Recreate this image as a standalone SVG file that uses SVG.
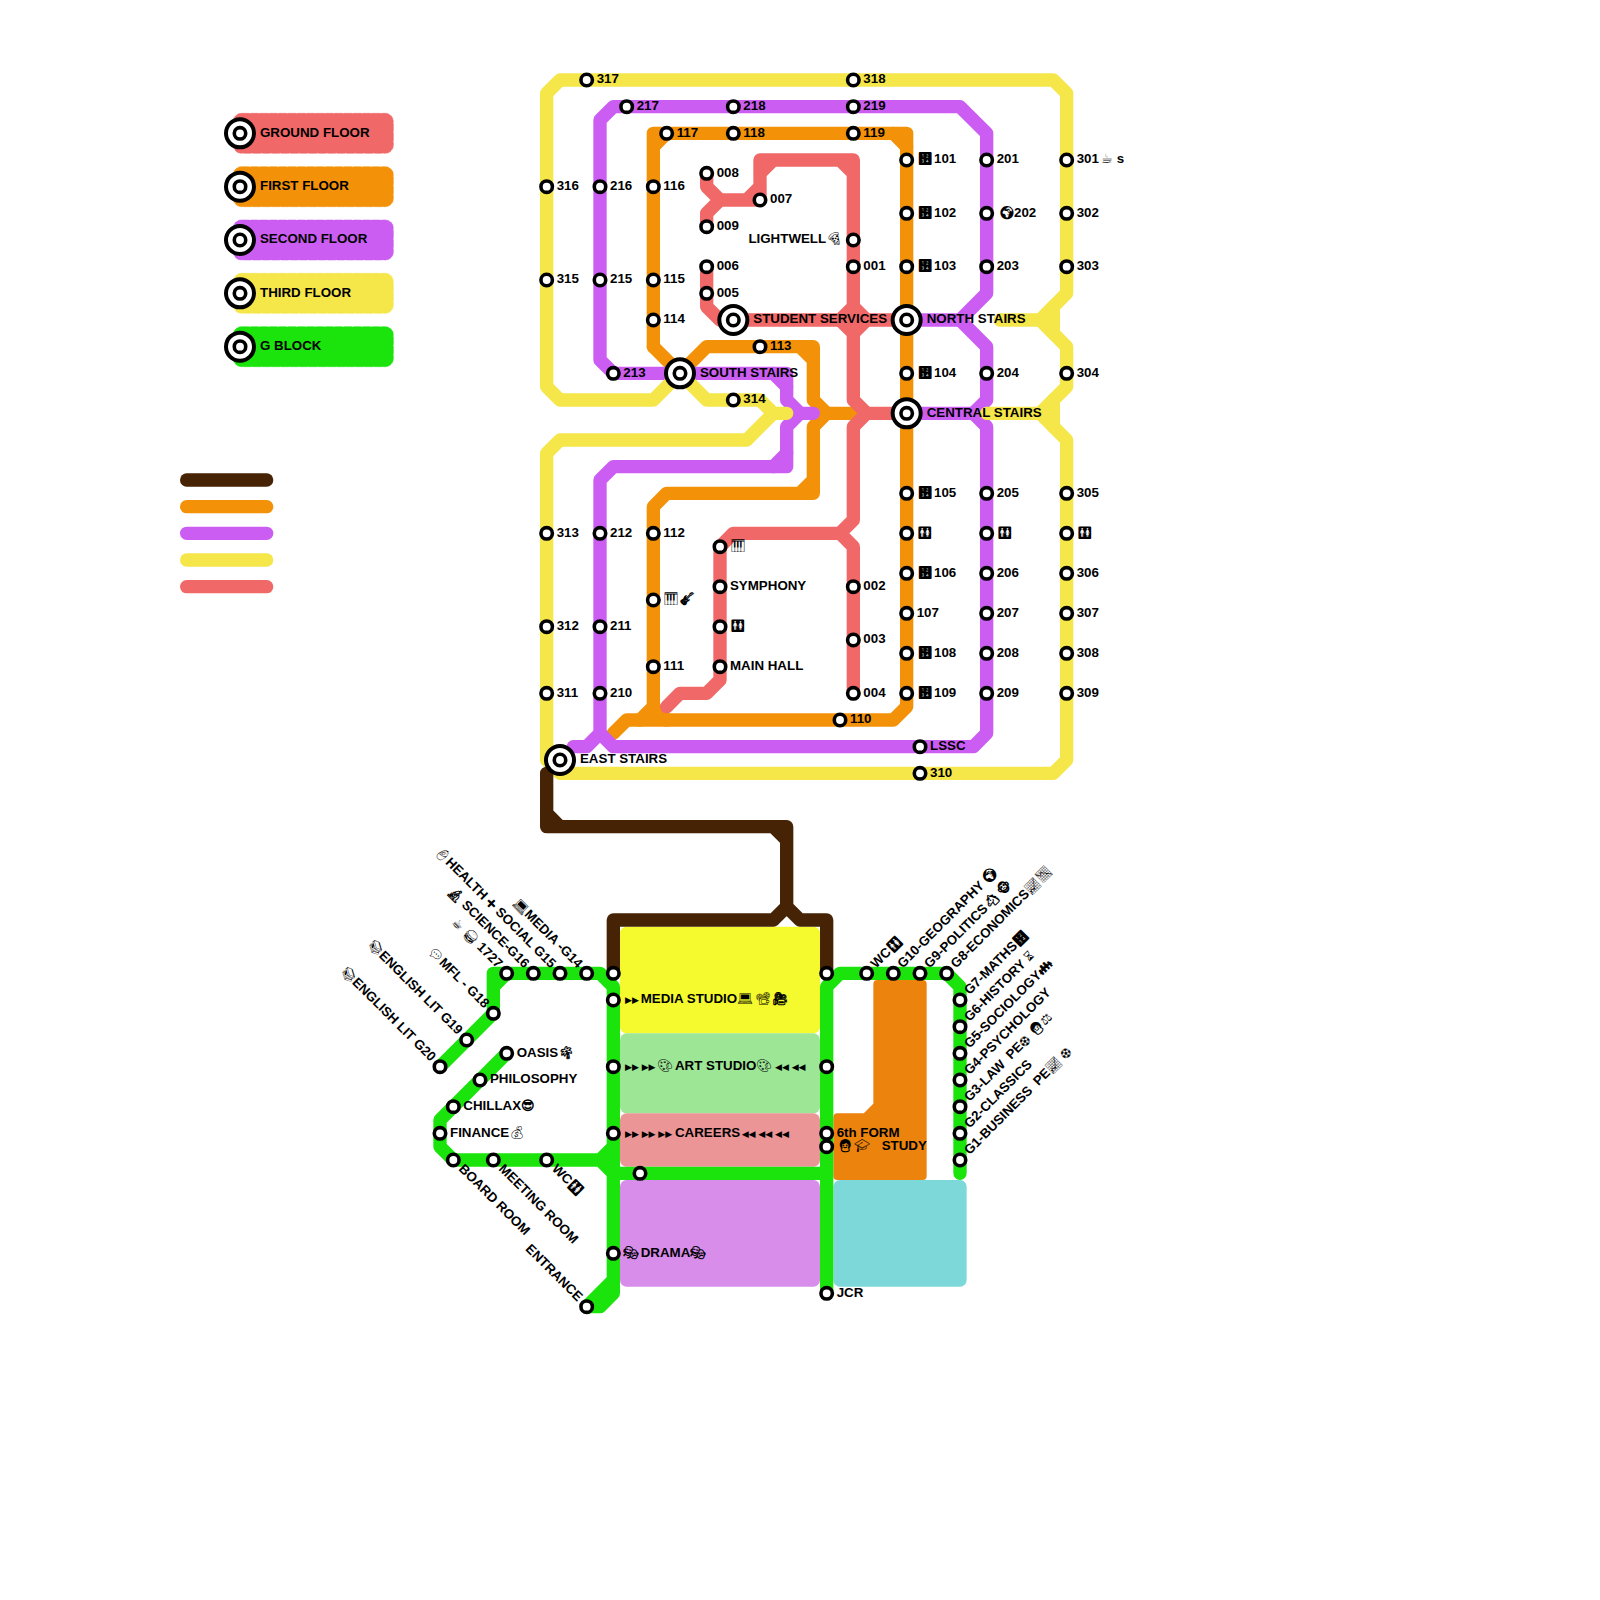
<svg xmlns="http://www.w3.org/2000/svg" width="1600" height="1600" viewBox="0 0 1600 1600">
<style>
text{font-family:"Liberation Sans",sans-serif;font-weight:700;font-size:1px;fill:#000;white-space:pre}
.e{text-anchor:end}
.m{font-size:.95px;font-variant-emoji:text;font-weight:400}
.mb{font-size:.95px;font-variant-emoji:text}
.a{font-family:"DejaVu Sans",sans-serif;font-size:.68px}
.l{fill:none;stroke-width:1;stroke-linecap:round;stroke-linejoin:round}
.br{stroke:#452304}.or{stroke:#f39208}.pu{stroke:#cb5df2}.ye{stroke:#f5e64a}.re{stroke:#f06868}.gr{stroke:#1ae40c}
.k{stroke-width:.04;stroke-dasharray:.6 .1}
</style>
<defs>
<circle id="st" r=".43" fill="#fff" stroke="#000" stroke-width=".27"/>
<g id="hub"><circle r="1.05" fill="#fff" stroke="#000" stroke-width=".3"/><circle r=".43" fill="#fff" stroke="#000" stroke-width=".27"/></g>
</defs>
<rect width="1600" height="1600" fill="#fff"/>
<g transform="scale(13.33333)">
<g id="legend">
<g id="key-ground"><rect class="k" x="17.5" y="8.5" width="12" height="3" rx=".6" fill="#f06868" stroke="#f06868"/><use href="#hub" x="18" y="10"/><text x="19.5" y="10.25">GROUND FLOOR</text></g>
<g id="key-first"><rect class="k" x="17.5" y="12.5" width="12" height="3" rx=".6" fill="#f39208" stroke="#f39208"/><use href="#hub" x="18" y="14"/><text x="19.5" y="14.25">FIRST FLOOR</text></g>
<g id="key-second"><rect class="k" x="17.5" y="16.5" width="12" height="3" rx=".6" fill="#cb5df2" stroke="#cb5df2"/><use href="#hub" x="18" y="18"/><text x="19.5" y="18.25">SECOND FLOOR</text></g>
<g id="key-third"><rect class="k" x="17.5" y="20.5" width="12" height="3" rx=".6" fill="#f5e64a" stroke="#f5e64a"/><use href="#hub" x="18" y="22"/><text x="19.5" y="22.25">THIRD FLOOR</text></g>
<g id="key-g"><rect class="k" x="17.5" y="24.5" width="12" height="3" rx=".6" fill="#1ae40c" stroke="#1ae40c"/><use href="#hub" x="18" y="26"/><text x="19.5" y="26.25">G BLOCK</text></g>
<path class="l br" d="M14 36H20"/><path class="l or" d="M14 38H20"/><path class="l pu" d="M14 40H20"/><path class="l ye" d="M14 42H20"/><path class="l re" d="M14 44H20"/>
</g>
<g id="zones">
<rect x="46.5" y="69.5" width="15" height="8" rx=".5" fill="#f5fa2e"/>
<rect x="46.5" y="77.5" width="15" height="6" rx=".5" fill="#9de696"/>
<rect x="46.5" y="83.5" width="15" height="4" rx=".5" fill="#ec9596"/>
<rect x="46.5" y="88.5" width="15" height="8" rx=".5" fill="#d88deb"/>
<rect x="62.5" y="88.5" width="10" height="8" rx=".5" fill="#7dd9d9"/>
<path d="M62.8 83.8H64.9L65.8 82.9V73.8H69.2V88.2H62.8Z" fill="#eb830d" stroke="#eb830d" stroke-width=".6" stroke-linejoin="round"/>
</g>
<g id="connectors">
<g class="l or">
<path d="M49 11L50 10M49 26V10H68V53L67 54H47L46 55"/>
<path d="M67 10L68 11"/>
<path d="M49 26L51 28L53 26H61V30L62 31H64M60 26L61 27"/>
<path d="M62 31L61 32V37H50L49 38V53L48 54M60 37L61 36M49 53L50 54"/>
</g>
<g class="l re">
<path d="M53 13V14L54 15L53 16V17M54 15H57V12H64V23L63 24L64 25V30L65 31L64 32V39L63 40L64 41V52M56 15L57 14M57 13L58 12M63 12L64 13"/>
<path d="M53 20V23L54 24H68M64 23L65 24L64 25M65 31H68"/>
<path d="M63 40H55L54 41V51L53 52H51L50 53"/>
</g>
<g class="l pu">
<path d="M68 24H72L74 22V10L72 8H46L45 9V27L46 28H59V30L60 31H61L60 31L59 32V35H46L45 36V55L44 56H43"/>
<path d="M58 28L59 29M58 35L59 34M45 55L46 56H73L74 55V32L73 31H68M72 24L74 26V30L73 31"/>
</g>
<g class="l ye">
<path d="M51 28L49 30H42L41 29V7L42 6H79L80 7V22L78 24L80 26V29L78 31L80 33V57L79 58H42L41 57V34L42 33H56L58 31H59"/>
<path d="M51 28L53 30H57L58 31M79 23V25M78 24H75M79 30V32M78 31H74"/>
</g>
<g class="l br">
<path d="M41 58V62H59V68L58 69H46V73M59 68L60 69H62V73M41 61L42 62M58 62L59 63"/>
</g>
<g class="l gr">
<path d="M33 80L37 76V73H45L46 74V96L44 98H45L46 97V96M37 74L38 73"/>
<path d="M38 79L33 84V86L34 87H45L46 86M45 87L46 88H62M62 97V74L63 73H71L72 74V88"/>
</g>
</g>
<g id="nodes">
<g id="n317" transform="translate(44 6)"><use href="#st"/><text x=".75" y=".25">317</text></g>
<g id="n318" transform="translate(64 6)"><use href="#st"/><text x=".75" y=".25">318</text></g>
<g id="n217" transform="translate(47 8)"><use href="#st"/><text x=".75" y=".25">217</text></g>
<g id="n218" transform="translate(55 8)"><use href="#st"/><text x=".75" y=".25">218</text></g>
<g id="n219" transform="translate(64 8)"><use href="#st"/><text x=".75" y=".25">219</text></g>
<g id="n117" transform="translate(50 10)"><use href="#st"/><text x=".75" y=".25">117</text></g>
<g id="n118" transform="translate(55 10)"><use href="#st"/><text x=".75" y=".25">118</text></g>
<g id="n119" transform="translate(64 10)"><use href="#st"/><text x=".75" y=".25">119</text></g>
<g id="n008" transform="translate(53 13)"><use href="#st"/><text x=".75" y=".25">008</text></g>
<g id="n007" transform="translate(57 15)"><use href="#st"/><text x=".75" y=".25">007</text></g>
<g id="n009" transform="translate(53 17)"><use href="#st"/><text x=".75" y=".25">009</text></g>
<g id="n-lightwell" transform="translate(64 18)"><use href="#st"/><text x="-7.87" y=".25">LIGHTWELL<tspan class="m" dx=".02">🍕</tspan></text></g>
<g id="n006" transform="translate(53 20)"><use href="#st"/><text x=".75" y=".25">006</text></g>
<g id="n005" transform="translate(53 22)"><use href="#st"/><text x=".75" y=".25">005</text></g>
<g id="n001" transform="translate(64 20)"><use href="#st"/><text x=".75" y=".25">001</text></g>
<g id="n316" transform="translate(41 14)"><use href="#st"/><text x=".75" y=".25">316</text></g>
<g id="n216" transform="translate(45 14)"><use href="#st"/><text x=".75" y=".25">216</text></g>
<g id="n116" transform="translate(49 14)"><use href="#st"/><text x=".75" y=".25">116</text></g>
<g id="n315" transform="translate(41 21)"><use href="#st"/><text x=".75" y=".25">315</text></g>
<g id="n215" transform="translate(45 21)"><use href="#st"/><text x=".75" y=".25">215</text></g>
<g id="n115" transform="translate(49 21)"><use href="#st"/><text x=".75" y=".25">115</text></g>
<g id="n114" transform="translate(49 24)"><use href="#st"/><text x=".75" y=".25">114</text></g>
<g id="n-student" transform="translate(55 24)"><use href="#hub"/><text x="1.5" y=".25">STUDENT SERVICES</text></g>
<g id="n-north" transform="translate(68 24)"><use href="#hub"/><text x="1.5" y=".25">NORTH STAIRS</text></g>
<g id="n113" transform="translate(57 26)"><use href="#st"/><text x=".75" y=".25">113</text></g>
<g id="n-south" transform="translate(51 28)"><use href="#hub"/><text x="1.5" y=".25">SOUTH STAIRS</text></g>
<g id="n213" transform="translate(46 28)"><use href="#st"/><text x=".75" y=".25">213</text></g>
<g id="n314" transform="translate(55 30)"><use href="#st"/><text x=".75" y=".25">314</text></g>
<g id="n-central" transform="translate(68 31)"><use href="#hub"/><text x="1.5" y=".25">CENTRAL STAIRS</text></g>
<g id="n101" transform="translate(68 12)"><use href="#st"/><text y=".25"><tspan class="m" x=".8">🔢</tspan><tspan x="2.05">101</tspan></text></g>
<g id="n102" transform="translate(68 16)"><use href="#st"/><text y=".25"><tspan class="m" x=".8">🔢</tspan><tspan x="2.05">102</tspan></text></g>
<g id="n103" transform="translate(68 20)"><use href="#st"/><text y=".25"><tspan class="m" x=".8">🔢</tspan><tspan x="2.05">103</tspan></text></g>
<g id="n104" transform="translate(68 28)"><use href="#st"/><text y=".25"><tspan class="m" x=".8">🔢</tspan><tspan x="2.05">104</tspan></text></g>
<g id="n105" transform="translate(68 37)"><use href="#st"/><text y=".25"><tspan class="m" x=".8">🔢</tspan><tspan x="2.05">105</tspan></text></g>
<g id="n1wc" transform="translate(68 40)"><use href="#st"/><text x=".75" y=".25" class="m">🚻</text></g>
<g id="n106" transform="translate(68 43)"><use href="#st"/><text y=".25"><tspan class="m" x=".8">🔢</tspan><tspan x="2.05">106</tspan></text></g>
<g id="n107" transform="translate(68 46)"><use href="#st"/><text x=".75" y=".25">107</text></g>
<g id="n108" transform="translate(68 49)"><use href="#st"/><text y=".25"><tspan class="m" x=".8">🔢</tspan><tspan x="2.05">108</tspan></text></g>
<g id="n109" transform="translate(68 52)"><use href="#st"/><text y=".25"><tspan class="m" x=".8">🔢</tspan><tspan x="2.05">109</tspan></text></g>
<g id="n201" transform="translate(74 12)"><use href="#st"/><text x=".75" y=".25">201</text></g>
<g id="n202" transform="translate(74 16)"><use href="#st"/><text y=".25"><tspan class="mb" x=".9">🌍</tspan><tspan x="2.05">202</tspan></text></g>
<g id="n203" transform="translate(74 20)"><use href="#st"/><text x=".75" y=".25">203</text></g>
<g id="n204" transform="translate(74 28)"><use href="#st"/><text x=".75" y=".25">204</text></g>
<g id="n205" transform="translate(74 37)"><use href="#st"/><text x=".75" y=".25">205</text></g>
<g id="n2wc" transform="translate(74 40)"><use href="#st"/><text x=".75" y=".25" class="m">🚻</text></g>
<g id="n206" transform="translate(74 43)"><use href="#st"/><text x=".75" y=".25">206</text></g>
<g id="n207" transform="translate(74 46)"><use href="#st"/><text x=".75" y=".25">207</text></g>
<g id="n208" transform="translate(74 49)"><use href="#st"/><text x=".75" y=".25">208</text></g>
<g id="n209" transform="translate(74 52)"><use href="#st"/><text x=".75" y=".25">209</text></g>
<g id="n301" transform="translate(80 12)"><use href="#st"/><text y=".25"><tspan x=".75">301</tspan><tspan class="m" x="2.55">☕</tspan><tspan x="3.75">s</tspan></text></g>
<g id="n302" transform="translate(80 16)"><use href="#st"/><text x=".75" y=".25">302</text></g>
<g id="n303" transform="translate(80 20)"><use href="#st"/><text x=".75" y=".25">303</text></g>
<g id="n304" transform="translate(80 28)"><use href="#st"/><text x=".75" y=".25">304</text></g>
<g id="n305" transform="translate(80 37)"><use href="#st"/><text x=".75" y=".25">305</text></g>
<g id="n3wc" transform="translate(80 40)"><use href="#st"/><text x=".75" y=".25" class="m">🚻</text></g>
<g id="n306" transform="translate(80 43)"><use href="#st"/><text x=".75" y=".25">306</text></g>
<g id="n307" transform="translate(80 46)"><use href="#st"/><text x=".75" y=".25">307</text></g>
<g id="n308" transform="translate(80 49)"><use href="#st"/><text x=".75" y=".25">308</text></g>
<g id="n309" transform="translate(80 52)"><use href="#st"/><text x=".75" y=".25">309</text></g>
<g id="n313" transform="translate(41 40)"><use href="#st"/><text x=".75" y=".25">313</text></g>
<g id="n212" transform="translate(45 40)"><use href="#st"/><text x=".75" y=".25">212</text></g>
<g id="n112" transform="translate(49 40)"><use href="#st"/><text x=".75" y=".25">112</text></g>
<g id="n-music1" transform="translate(49 45)"><use href="#st"/><text x=".75" y=".25"><tspan class="m">🎹</tspan><tspan class="mb">🎸</tspan></text></g>
<g id="n312" transform="translate(41 47)"><use href="#st"/><text x=".75" y=".25">312</text></g>
<g id="n211" transform="translate(45 47)"><use href="#st"/><text x=".75" y=".25">211</text></g>
<g id="n111" transform="translate(49 50)"><use href="#st"/><text x=".75" y=".25">111</text></g>
<g id="n311" transform="translate(41 52)"><use href="#st"/><text x=".75" y=".25">311</text></g>
<g id="n210" transform="translate(45 52)"><use href="#st"/><text x=".75" y=".25">210</text></g>
<g id="n-music0" transform="translate(54 41)"><use href="#st"/><text x=".75" y=".25" class="m">🎹</text></g>
<g id="n-symphony" transform="translate(54 44)"><use href="#st"/><text x=".75" y=".25">SYMPHONY</text></g>
<g id="n0wc" transform="translate(54 47)"><use href="#st"/><text x=".75" y=".25" class="m">🚻</text></g>
<g id="n-mainhall" transform="translate(54 50)"><use href="#st"/><text x=".75" y=".25">MAIN HALL</text></g>
<g id="n002" transform="translate(64 44)"><use href="#st"/><text x=".75" y=".25">002</text></g>
<g id="n003" transform="translate(64 48)"><use href="#st"/><text x=".75" y=".25">003</text></g>
<g id="n004" transform="translate(64 52)"><use href="#st"/><text x=".75" y=".25">004</text></g>
<g id="n110" transform="translate(63 54)"><use href="#st"/><text x=".75" y=".25">110</text></g>
<g id="n-east" transform="translate(42 57)"><use href="#hub"/><text x="1.5" y=".25">EAST STAIRS</text></g>
<g id="n-lssc" transform="translate(69 56)"><use href="#st"/><text x=".75" y=".25">LSSC</text></g>
<g id="n310" transform="translate(69 58)"><use href="#st"/><text x=".75" y=".25">310</text></g>
<g id="g14" transform="translate(44 73)"><use href="#st"/><text class="e" transform="rotate(45)" x="-.75" y=".25"><tspan class="m">💻</tspan>MEDIA -G14</text></g>
<g id="g15" transform="translate(42 73)"><use href="#st"/><text class="e" transform="rotate(45)" x="-.75" y=".25"><tspan class="m">👶</tspan>HEALTH <tspan class="mb">➕</tspan> SOCIAL G15</text></g>
<g id="g16" transform="translate(40 73)"><use href="#st"/><text class="e" transform="rotate(45)" x="-.75" y=".25"><tspan class="mb">🔬</tspan> SCIENCE-G16</text></g>
<g id="g1727" transform="translate(38 73)"><use href="#st"/><text class="e" transform="rotate(45)" x="-.75" y=".25"><tspan class="m">☕ 🍔</tspan> 1727</text></g>
<g id="g18" transform="translate(37 76)"><use href="#st"/><text class="e" transform="rotate(45)" x="-.75" y=".25"><tspan class="m">💬</tspan>MFL - G18</text></g>
<g id="g19" transform="translate(35 78)"><use href="#st"/><text class="e" transform="rotate(45)" x="-.75" y=".25"><tspan class="m">📚</tspan>ENGLISH LIT G19</text></g>
<g id="g20" transform="translate(33 80)"><use href="#st"/><text class="e" transform="rotate(45)" x="-.75" y=".25"><tspan class="m">📚</tspan>ENGLISH LIT G20</text></g>
<g id="gl-top" transform="translate(46 73)"><use href="#st"/></g>
<g id="gl-media" transform="translate(46 75)"><use href="#st"/><text y=".25"><tspan class="a" x=".875">▶▶</tspan><tspan x="2.05">MEDIA STUDIO</tspan><tspan class="m" x="9.3">💻</tspan><tspan class="m" x="10.65">📽</tspan><tspan class="mb" x="11.9">🎥</tspan></text></g>
<g id="gl-art" transform="translate(46 80)"><use href="#st"/><text y=".25"><tspan class="a" x=".875">▶▶</tspan><tspan class="a" x="2.125">▶▶</tspan><tspan class="m" x="3.3">🎨</tspan><tspan x="4.625">ART STUDIO</tspan><tspan class="m" x="10.7">🎨</tspan><tspan class="a" x="12.125">◀◀</tspan><tspan class="a" x="13.375">◀◀</tspan></text></g>
<g id="gl-careers" transform="translate(46 85)"><use href="#st"/><text y=".25"><tspan class="a" x=".875">▶▶</tspan><tspan class="a" x="2.125">▶▶</tspan><tspan class="a" x="3.375">▶▶</tspan><tspan x="4.625">CAREERS</tspan><tspan class="a" x="9.625">◀◀</tspan><tspan class="a" x="10.875">◀◀</tspan><tspan class="a" x="12.125">◀◀</tspan></text></g>
<g id="gl-drama" transform="translate(46 94)"><use href="#st"/><text y=".25"><tspan class="mb" x=".75">🎭</tspan><tspan x="2.05">DRAMA</tspan><tspan class="mb">🎭</tspan></text></g>
<g id="gl-entrance" transform="translate(44 98)"><use href="#st"/><text class="e" transform="rotate(45)" x="-.75" y=".25">ENTRANCE</text></g>
<g id="gl-mid" transform="translate(48 88)"><use href="#st"/></g>
<g id="gl-oasis" transform="translate(38 79)"><use href="#st"/><text x=".75" y=".25">OASIS<tspan class="mb">🌴</tspan></text></g>
<g id="gl-phil" transform="translate(36 81)"><use href="#st"/><text x=".75" y=".25">PHILOSOPHY</text></g>
<g id="gl-chillax" transform="translate(34 83)"><use href="#st"/><text x=".75" y=".25">CHILLAX<tspan class="mb">😎</tspan></text></g>
<g id="gl-finance" transform="translate(33 85)"><use href="#st"/><text x=".75" y=".25">FINANCE<tspan class="m">💰</tspan></text></g>
<g id="gl-board" transform="translate(34 87)"><use href="#st"/><text transform="rotate(45)" x=".75" y=".25">BOARD ROOM</text></g>
<g id="gl-meeting" transform="translate(37 87)"><use href="#st"/><text transform="rotate(45)" x=".75" y=".25">MEETING ROOM</text></g>
<g id="gl-wc" transform="translate(41 87)"><use href="#st"/><text transform="rotate(45)" x=".75" y=".25">WC<tspan class="m">🚻</tspan></text></g>
<g id="gr-top" transform="translate(62 73)"><use href="#st"/></g>
<g id="gr-80" transform="translate(62 80)"><use href="#st"/></g>
<g id="gr-form" transform="translate(62 85)"><use href="#st"/><text x=".75" y=".25">6th FORM</text></g>
<g id="gr-study" transform="translate(62 86)"><use href="#st"/><text y=".25"><tspan class="mb" x=".8">👩</tspan><tspan class="m" x="2.05">🎓</tspan><tspan x="4.125">STUDY</tspan></text></g>
<g id="gr-jcr" transform="translate(62 97)"><use href="#st"/><text x=".75" y=".25">JCR</text></g>
<g id="gr-wc" transform="translate(65 73)"><use href="#st"/><text transform="rotate(-45)" x=".75" y=".25">WC<tspan class="m">🚻</tspan></text></g>
<g id="g10" transform="translate(67 73)"><use href="#st"/><text transform="rotate(-45)" x=".75" y=".25">G10-GEOGRAPHY <tspan class="mb">🌍</tspan></text></g>
<g id="g9" transform="translate(69 73)"><use href="#st"/><text transform="rotate(-45)" x=".75" y=".25">G9-POLITICS<tspan class="mb">🐴 🐵</tspan></text></g>
<g id="g8" transform="translate(71 73)"><use href="#st"/><text transform="rotate(-45)" x=".75" y=".25">G8-ECONOMICS<tspan class="m">📈📉</tspan></text></g>
<g id="g7" transform="translate(72 75)"><use href="#st"/><text transform="rotate(-45)" x=".75" y=".25">G7-MATHS<tspan class="m">🔢</tspan></text></g>
<g id="g6" transform="translate(72 77)"><use href="#st"/><text transform="rotate(-45)" x=".75" y=".25">G6-HISTORY <tspan class="m">⏳</tspan></text></g>
<g id="g5" transform="translate(72 79)"><use href="#st"/><text transform="rotate(-45)" x=".75" y=".25">G5-SOCIOLOGY<tspan class="mb">👪</tspan></text></g>
<g id="g4" transform="translate(72 81)"><use href="#st"/><text transform="rotate(-45)" x=".75" y=".25">G4-PSYCHOLOGY</text></g>
<g id="g3" transform="translate(72 83)"><use href="#st"/><text transform="rotate(-45)" x=".75" y=".25">G3-LAW  PE<tspan class="m">⚽ </tspan><tspan class="mb">👩</tspan><tspan class="m">⚖</tspan></text></g>
<g id="g2" transform="translate(72 85)"><use href="#st"/><text transform="rotate(-45)" x=".75" y=".25">G2-CLASSICS</text></g>
<g id="g1" transform="translate(72 87)"><use href="#st"/><text transform="rotate(-45)" x=".75" y=".25">G1-BUSINESS  PE<tspan class="m">📈 ⚽</tspan></text></g>
</g>
</g>
</svg>
